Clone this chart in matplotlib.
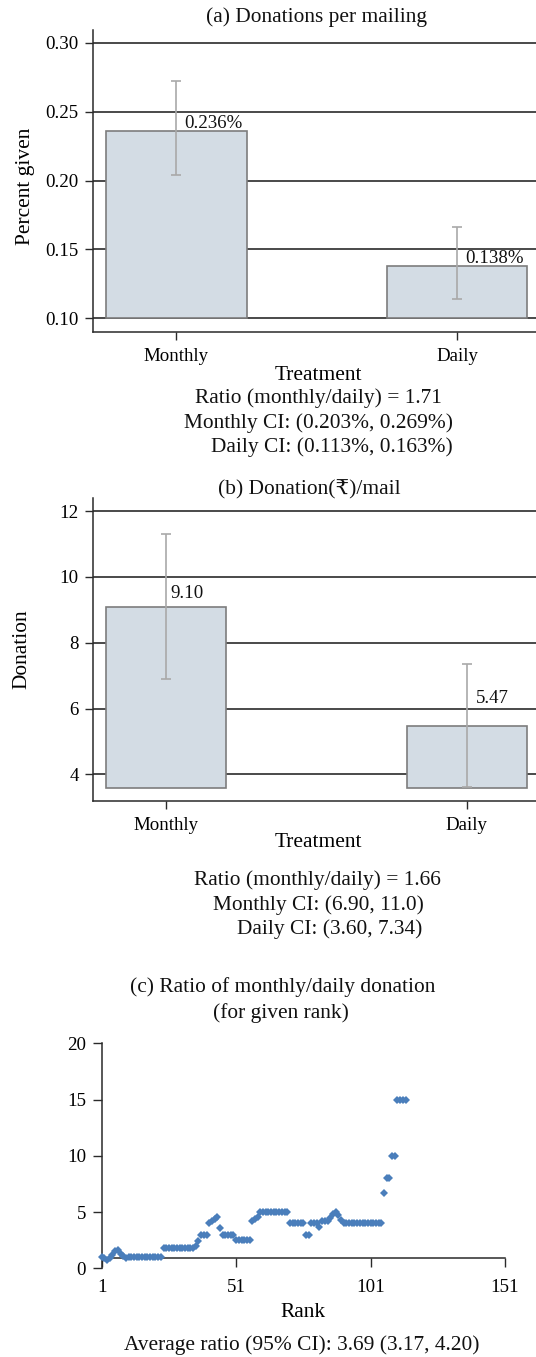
import matplotlib
matplotlib.use("Agg")
import matplotlib.pyplot as plt

W, H = 536, 1357
plt.rcParams['font.family'] = ['Liberation Serif', 'DejaVu Serif']
plt.rcParams['font.size'] = 15.4
plt.rcParams['text.color'] = '#111111'

# ---- data -------------------------------------------------------------
treatments = ["Monthly", "Daily"]

pct_given = [0.236, 0.138]
pct_err_lo = [0.204, 0.114]
pct_err_hi = [0.272, 0.166]
pct_ticks = [0.10, 0.15, 0.20, 0.25, 0.30]
pct_labels = ["0.236%", "0.138%"]

donation = [9.10, 5.47]
don_err_lo = [6.90, 3.63]
don_err_hi = [11.30, 7.36]
don_ticks = [4, 6, 8, 10, 12]
don_labels = ["9.10", "5.47"]

ratio_by_rank = [
    1.0, 0.9, 0.75, 0.9, 1.2, 1.5, 1.6, 1.3, 1.1, 0.9,
    1.0, 1.0, 1.0, 1.0, 1.0, 1.0, 1.0, 1.0, 1.0, 1.0,
    1.0, 1.0, 1.0, 1.8, 1.8, 1.8, 1.8, 1.8, 1.8, 1.8,
    1.8, 1.8, 1.8, 1.8, 1.8, 2.0, 2.4, 3.0, 3.0, 3.0,
    4.0, 4.2, 4.4, 4.6, 3.6, 3.0, 3.0, 3.0, 3.0, 3.0,
    2.5, 2.5, 2.5, 2.5, 2.5, 2.5, 4.2, 4.4, 4.6, 5.0,
    5.0, 5.0, 5.0, 5.0, 5.0, 5.0, 5.0, 5.0, 5.0, 5.0,
    4.0, 4.0, 4.0, 4.0, 4.0, 4.0, 3.0, 3.0, 4.0, 4.0,
    4.0, 3.7, 4.2, 4.2, 4.2, 4.5, 4.8, 5.0, 4.7, 4.3,
    4.0, 4.0, 4.0, 4.0, 4.0, 4.0, 4.0, 4.0, 4.0, 4.0,
    4.0, 4.0, 4.0, 4.0, 4.0, 6.7, 8.0, 8.0, 10.0, 10.0,
    15.0, 15.0, 15.0, 15.0,
]
rank_ticks = [1, 51, 101, 151]
ratio_ticks = [0, 5, 10, 15, 20]

notes_a = ["Ratio (monthly/daily) = 1.71",
           "Monthly CI: (0.203%, 0.269%)",
           "Daily CI: (0.113%, 0.163%)"]
notes_b = ["Ratio (monthly/daily) = 1.66",
           "Monthly CI: (6.90, 11.0)",
           "Daily CI: (3.60, 7.34)"]
note_c = "Average ratio (95% CI): 3.69 (3.17, 4.20)"

# ---- style ------------------------------------------------------------
BAR_FILL = '#d3dce4'
BAR_EDGE = '#7d7d7d'
ERR_COL = '#a9a9a9'
GRID_COL = '#3a3a3a'
AXIS_COL = '#2a2a2a'
DOT_COL = '#4a7ebb'
TXT = 15.4      # titles, axis titles, notes
TICK = 13.6     # tick labels and value labels

fig = plt.figure(figsize=(W / 100, H / 100), dpi=100)


def box(l, t, r, b):
    return [l / W, 1 - b / H, (r - l) / W, (b - t) / H]


def ftext(x, y, s, **kw):
    fig.text(x / W, 1 - y / H, s, ha=kw.pop('ha', 'center'),
             va=kw.pop('va', 'center'), **kw)


def label_coords(px, py, l, t, r, b):
    return (px - l) / (r - l), (b - py) / (b - t)


def style_bar_axes(ax, ticks):
    for side in ('top', 'right'):
        ax.spines[side].set_visible(False)
    for side in ('left', 'bottom'):
        ax.spines[side].set_color(AXIS_COL)
        ax.spines[side].set_linewidth(1.1)
    ax.set_yticks(ticks)
    ax.yaxis.grid(True, color=GRID_COL, linewidth=1.3)
    ax.set_axisbelow(True)
    ax.tick_params(axis='both', direction='out', length=6, width=1.0,
                   color=AXIS_COL, labelsize=TICK)
    ax.tick_params(axis='y', pad=4.5)
    ax.tick_params(axis='x', pad=5.5)


# ---- (a) donations per mailing ---------------------------------------
A = (93.3, 30, 540.3, 331.7)
ax = fig.add_axes(box(*A))
xs = range(len(treatments))
base_a = pct_ticks[0]
ax.bar(xs, [v - base_a for v in pct_given], bottom=base_a, width=0.5,
       color=BAR_FILL, edgecolor=BAR_EDGE, linewidth=1.2, zorder=2)
ax.errorbar(xs, pct_given,
            yerr=[[v - lo for v, lo in zip(pct_given, pct_err_lo)],
                  [hi - v for v, hi in zip(pct_given, pct_err_hi)]],
            fmt='none', ecolor=ERR_COL, elinewidth=1.2, capsize=3.6,
            capthick=1.2, zorder=3)
for i, (v, s) in enumerate(zip(pct_given, pct_labels)):
    ax.text(i + 0.027, v + 0.0018, s, ha='left', va='baseline',
            fontsize=TICK, zorder=4)
ax.set_xlim(-0.2957, 1.2957)
ax.set_ylim(0.0903, 0.3092)
ax.set_xticks(list(xs))
ax.set_xticklabels(treatments)
ax.set_yticklabels([f"{t:.2f}" for t in pct_ticks])
style_bar_axes(ax, pct_ticks)
ax.set_xlabel("Treatment", fontsize=TXT)
ax.xaxis.set_label_coords(*label_coords(318, 375, *A))
ax.xaxis.label.set_va('center')
ax.set_ylabel("Percent given", fontsize=TXT)
ax.yaxis.set_label_coords(*label_coords(25.6, 186, *A))
ax.yaxis.label.set_va('center')
ftext(317, 17.5, "(a) Donations per mailing", fontsize=TXT)
for (x, y), s in zip([(318.3, 398.3), (318, 423.3), (331.8, 447.5)], notes_a):
    ftext(x, y, s, fontsize=TXT)

# ---- (b) donation per mail -------------------------------------------
B = (93.3, 498.3, 540, 801)
ax = fig.add_axes(box(*B))
base_b = 3.6
ax.bar(xs, [v - base_b for v in donation], bottom=base_b, width=0.4,
       color=BAR_FILL, edgecolor=BAR_EDGE, linewidth=1.2, zorder=2)
ax.errorbar(xs, donation,
            yerr=[[v - lo for v, lo in zip(donation, don_err_lo)],
                  [hi - v for v, hi in zip(donation, don_err_hi)]],
            fmt='none', ecolor=ERR_COL, elinewidth=1.2, capsize=3.6,
            capthick=1.2, zorder=3)
label_dx = [0.015, 0.03]
label_dy = [0.25, 0.69]
for i, (v, s) in enumerate(zip(donation, don_labels)):
    ax.text(i + label_dx[i], v + label_dy[i], s, ha='left', va='baseline',
            fontsize=TICK, zorder=4)
ax.set_xlim(-0.243, 1.243)
ax.set_ylim(3.19, 12.39)
ax.set_xticks(list(xs))
ax.set_xticklabels(treatments)
style_bar_axes(ax, don_ticks)
ax.set_xlabel("Treatment", fontsize=TXT)
ax.xaxis.set_label_coords(*label_coords(318, 842.7, *B))
ax.xaxis.label.set_va('center')
ax.set_ylabel("Donation", fontsize=TXT)
ax.yaxis.set_label_coords(*label_coords(22.2, 649.5, *B))
ax.yaxis.label.set_va('center')
ftext(309, 490, "(b) Donation(\u20b9)/mail", fontsize=TXT)
for (x, y), s in zip([(317.3, 880), (318.6, 905), (330, 929)], notes_b):
    ftext(x, y, s, fontsize=TXT)

# ---- (c) ratio by rank -----------------------------------------------
C = (101.7, 1043.3, 505, 1268.3)
ax = fig.add_axes(box(*C))
ranks = list(range(1, len(ratio_by_rank) + 1))
ax.plot(ranks, ratio_by_rank, linestyle='none', marker='D', markersize=3.6,
        markeredgewidth=0, color=DOT_COL, clip_on=False, zorder=3)
ax.set_xlim(rank_ticks[0], rank_ticks[-1])
ax.set_ylim(ratio_ticks[0], ratio_ticks[-1])
ax.set_xticks(rank_ticks)
ax.set_yticks(ratio_ticks)
for side in ('top', 'right'):
    ax.spines[side].set_visible(False)
for side in ('left', 'bottom'):
    ax.spines[side].set_color(AXIS_COL)
    ax.spines[side].set_linewidth(1.1)
ax.spines['bottom'].set_position(('data', 0.94))
ax.tick_params(axis='both', direction='out', length=6.3, width=1.0,
               color=AXIS_COL, labelsize=TICK)
ax.tick_params(axis='y', pad=5)
ax.tick_params(axis='x', pad=9)
ax.set_xlabel("Rank", fontsize=TXT)
ax.xaxis.set_label_coords(*label_coords(302.7, 1312.7, *C))
ax.xaxis.label.set_va('center')
ftext(282.5, 986.7, "(c) Ratio of monthly/daily donation", fontsize=TXT)
ftext(280.8, 1013.3, "(for given rank)", fontsize=TXT)
ftext(301.7, 1345, note_c, fontsize=TXT)

fig.savefig("out.png", dpi=100)
